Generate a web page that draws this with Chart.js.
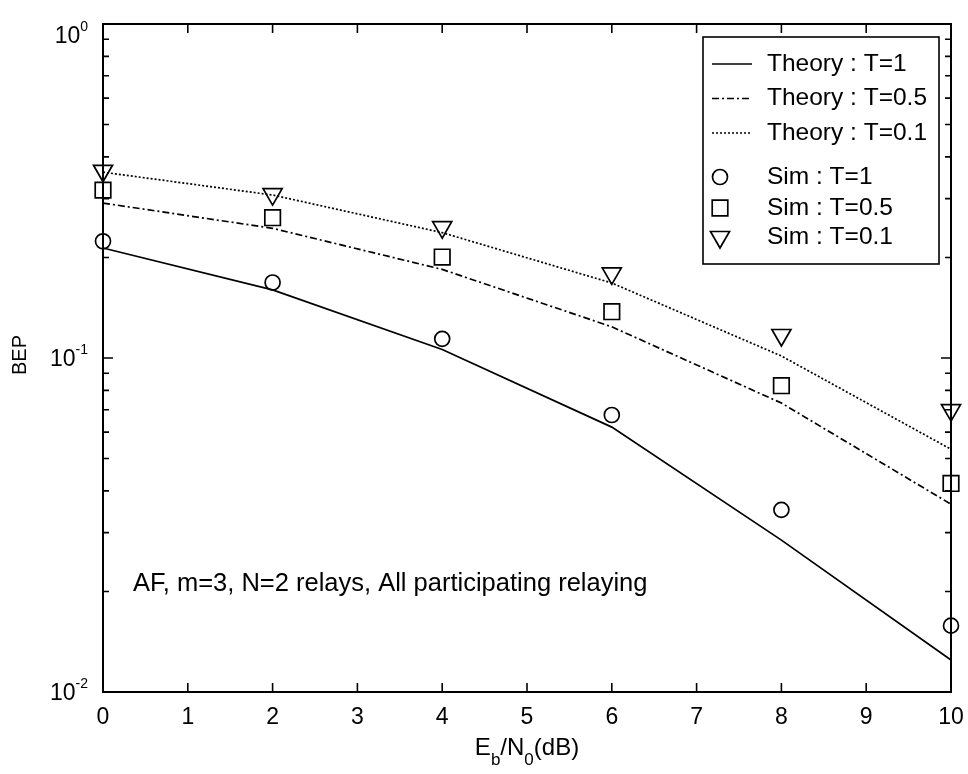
<!DOCTYPE html>
<html>
<head>
<meta charset="utf-8">
<script src="https://cdn.jsdelivr.net/npm/chart.js@4.4.0/dist/chart.umd.min.js"></script>
<style>
  html, body { margin: 0; padding: 0; background: #fff; }
  #wrap { width: 968px; height: 774px; }
</style>
</head>
<body>
<div id="wrap"><canvas id="bepChart" width="968" height="774"></canvas></div>
<script>
// Eb/N0 points (dB)
const ebno = [0, 2, 4, 6, 8, 10];

// analytical BEP curves
const theoryT1  = [0.2135, 0.160, 0.106, 0.0621, 0.0285, 0.01247];
const theoryT05 = [0.291, 0.2445, 0.1842, 0.124, 0.0733, 0.0365];
const theoryT01 = [0.360, 0.3076, 0.2373, 0.1677, 0.1014, 0.0533];

// Monte Carlo BEP
const simT1  = [0.2236, 0.1683, 0.1141, 0.0675, 0.0351, 0.0158];
const simT05 = [0.318, 0.263, 0.2006, 0.1376, 0.0826, 0.0421];
const simT01 = [0.3635, 0.3096, 0.2464, 0.1793, 0.1172, 0.0698];

const xTicks = [0, 1, 2, 3, 4, 5, 6, 7, 8, 9, 10];
const yDecades = [0.01, 0.1, 1];
const yDecadeExp = ['-2', '-1', '0'];

const seriesNames = ['Theory : T=1', 'Theory : T=0.5', 'Theory : T=0.1',
                     'Sim : T=1', 'Sim : T=0.5', 'Sim : T=0.1'];
const noteText = 'AF, m=3, N=2 relays, All participating relaying';

const FONT = '"Liberation Sans", Arial, Helvetica, sans-serif';
const DASHDOT = [7, 3, 2, 3];
const DOTTED = [2, 2];

function pts(ys) {
  return ebno.map((x, i) => ({ x: x, y: ys[i] }));
}

function lineSet(label, ys, dash) {
  return {
    label: label, data: pts(ys),
    borderColor: '#000', borderWidth: 1.7, borderDash: dash,
    pointRadius: 0, fill: false, tension: 0, clip: false
  };
}

function markerSet(label, ys, style, r, rot) {
  return {
    label: label, data: pts(ys), showLine: false,
    pointStyle: style, pointRadius: r, pointRotation: rot || 0,
    pointBorderColor: '#000', pointBackgroundColor: 'rgba(0,0,0,0)',
    pointBorderWidth: 1.7, clip: false
  };
}

// draws "10" with a raised exponent, right aligned at x
function powerLabel(ctx, x, yMid, exp) {
  ctx.font = '14px ' + FONT;
  const ew = ctx.measureText(exp).width;
  ctx.textAlign = 'left';
  ctx.textBaseline = 'alphabetic';
  ctx.fillText(exp, x - ew, yMid - 4);
  ctx.font = '23px ' + FONT;
  ctx.textAlign = 'right';
  ctx.fillText('10', x - ew, yMid + 8);
}

// axes box, inward ticks, labels, note and legend
const axesDecor = {
  id: 'axesDecor',
  afterDatasetsDraw(chart) {
    const ctx = chart.ctx;
    const a = chart.chartArea;
    const xs = chart.scales.x, ys = chart.scales.y;
    ctx.save();
    ctx.strokeStyle = '#000';
    ctx.fillStyle = '#000';
    ctx.lineWidth = 1.6;
    ctx.setLineDash([]);

    // x ticks top and bottom
    ctx.beginPath();
    xTicks.forEach(v => {
      const px = xs.getPixelForValue(v);
      ctx.moveTo(px, a.bottom); ctx.lineTo(px, a.bottom - 9);
      ctx.moveTo(px, a.top); ctx.lineTo(px, a.top + 9);
    });
    // y ticks, majors plus 2..9 minors
    for (let d = 0; d < yDecades.length; d++) {
      const base = yDecades[d];
      const py = ys.getPixelForValue(base);
      ctx.moveTo(a.left, py); ctx.lineTo(a.left + 10, py);
      ctx.moveTo(a.right, py); ctx.lineTo(a.right - 10, py);
      if (d < yDecades.length - 1) {
        for (let m = 2; m <= 9; m++) {
          const pm = ys.getPixelForValue(base * m);
          ctx.moveTo(a.left, pm); ctx.lineTo(a.left + 6, pm);
          ctx.moveTo(a.right, pm); ctx.lineTo(a.right - 6, pm);
        }
      }
    }
    ctx.stroke();

    ctx.lineWidth = 2;
    ctx.strokeRect(a.left, a.top, a.right - a.left, a.bottom - a.top);

    // tick labels
    ctx.font = '23px ' + FONT;
    ctx.textAlign = 'center';
    ctx.textBaseline = 'alphabetic';
    xTicks.forEach(v => ctx.fillText(String(v), xs.getPixelForValue(v), a.bottom + 32));
    yDecades.forEach((v, i) => {
      const py = Math.max(ys.getPixelForValue(v), a.top + 11);
      powerLabel(ctx, a.left - 15, py, yDecadeExp[i]);
    });

    // x title: E_b/N_0(dB)
    const parts = [['E', 0], ['b', 1], ['/N', 0], ['0', 1], ['(dB)', 0]];
    const big = '24px ' + FONT, small = '17px ' + FONT;
    let total = 0;
    parts.forEach(p => { ctx.font = p[1] ? small : big; total += ctx.measureText(p[0]).width; });
    let cx = (a.left + a.right) / 2 - total / 2;
    ctx.textAlign = 'left';
    parts.forEach(p => {
      ctx.font = p[1] ? small : big;
      ctx.fillText(p[0], cx, p[1] ? 765 : 755);
      cx += ctx.measureText(p[0]).width;
    });

    // y title
    ctx.save();
    ctx.translate(26, 355);
    ctx.rotate(-Math.PI / 2);
    ctx.font = '20px ' + FONT;
    ctx.textAlign = 'center';
    ctx.fillText('BEP', 0, 0);
    ctx.restore();

    // note inside the axes
    ctx.font = '25.5px ' + FONT;
    ctx.textAlign = 'left';
    ctx.fillText(noteText, a.left + 30, 591);

    // legend
    const box = { l: 703, t: 37, r: 939, b: 264 };
    ctx.fillStyle = '#fff';
    ctx.fillRect(box.l, box.t, box.r - box.l, box.b - box.t);
    ctx.strokeStyle = '#000';
    ctx.lineWidth = 1.6;
    ctx.strokeRect(box.l, box.t, box.r - box.l, box.b - box.t);
    const rows = [64, 98.5, 133, 177, 208, 237];
    const sets = chart.data.datasets;
    rows.forEach((ry, i) => {
      const ds = sets[i];
      if (i < 3) {
        ctx.beginPath();
        ctx.setLineDash(ds.borderDash || []);
        ctx.lineWidth = 1.7;
        ctx.moveTo(712, ry); ctx.lineTo(752, ry);
        ctx.stroke();
        ctx.setLineDash([]);
      } else {
        ctx.fillStyle = 'rgba(0,0,0,0)';
        ctx.lineWidth = ds.pointBorderWidth;
        Chart.helpers.drawPoint(ctx, {
          pointStyle: ds.pointStyle, rotation: ds.pointRotation,
          radius: ds.pointRadius, borderWidth: ds.pointBorderWidth
        }, 720, ry);
      }
      ctx.fillStyle = '#000';
      ctx.font = '24.5px ' + FONT;
      ctx.textAlign = 'left';
      ctx.textBaseline = 'middle';
      ctx.fillText(seriesNames[i], 767, ry);
    });
    ctx.restore();
  }
};

new Chart(document.getElementById('bepChart'), {
  type: 'line',
  data: {
    datasets: [
      lineSet(seriesNames[0], theoryT1, []),
      lineSet(seriesNames[1], theoryT05, DASHDOT),
      lineSet(seriesNames[2], theoryT01, DOTTED),
      markerSet(seriesNames[3], simT1, 'circle', 7.5),
      markerSet(seriesNames[4], simT05, 'rect', 11),
      markerSet(seriesNames[5], simT01, 'triangle', 11, 180)
    ]
  },
  options: {
    responsive: false,
    animation: false,
    layout: { padding: { left: 103, right: 17, top: 24, bottom: 82 } },
    scales: {
      x: { type: 'linear', min: 0, max: 10, display: false },
      y: { type: 'logarithmic', min: 0.01, max: 1, display: false }
    },
    plugins: { legend: { display: false }, tooltip: { enabled: false } }
  },
  plugins: [axesDecor]
});
</script>
</body>
</html>
